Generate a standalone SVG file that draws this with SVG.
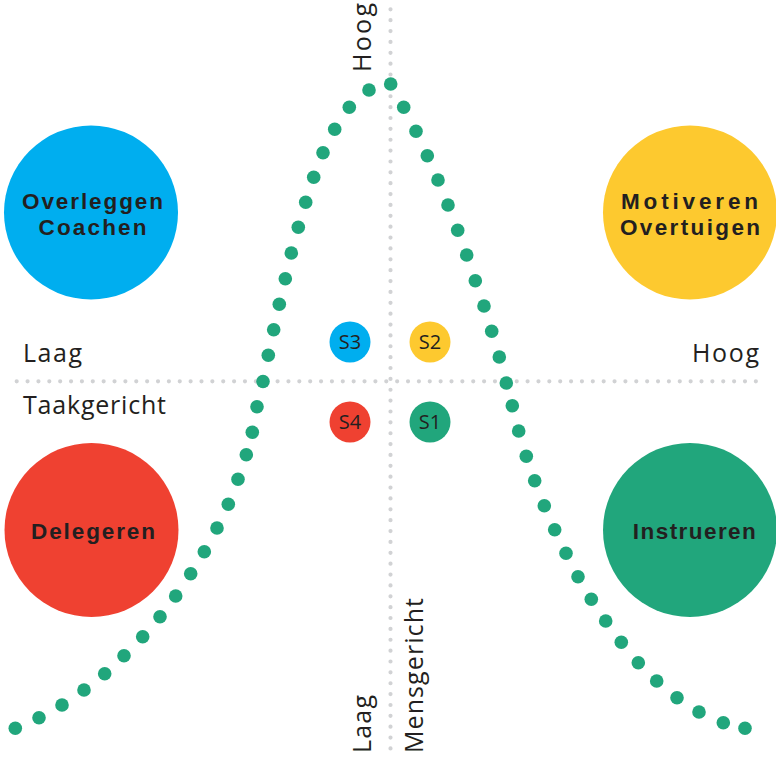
<svg xmlns="http://www.w3.org/2000/svg" width="776" height="758" viewBox="0 0 776 758">
<style>
.axis{stroke:#d1d2d4;stroke-width:4.2;stroke-linecap:round;stroke-dasharray:0 10.87;fill:none}
.g{fill:#21a67c}
.lbl{font-family:"Open Sans","Liberation Sans",Arial,sans-serif;font-size:25px;fill:#231f20}
.big{font-family:"Liberation Sans",Arial,sans-serif;font-size:22.5px;font-weight:700;fill:#231f20;text-anchor:middle}
.s{font-family:"Open Sans","Liberation Sans",Arial,sans-serif;font-size:20px;fill:#231f20;text-anchor:middle}
</style>
<rect width="776" height="758" fill="#ffffff"/>
<g id="connectors">
<line class="axis" x1="390.5" y1="9.3" x2="390.5" y2="753"/>
<line class="axis" x1="16.7" y1="381.3" x2="763" y2="381.3"/>
</g>
<g id="curve">
<circle class="g" cx="15.3" cy="728.3" r="6.8"/><circle class="g" cx="39" cy="717.7" r="6.8"/><circle class="g" cx="62" cy="705" r="6.8"/><circle class="g" cx="84" cy="690" r="6.8"/><circle class="g" cx="104.7" cy="673.7" r="6.8"/><circle class="g" cx="124" cy="655.7" r="6.8"/><circle class="g" cx="142.7" cy="636.7" r="6.8"/><circle class="g" cx="160" cy="616.7" r="6.8"/><circle class="g" cx="175.7" cy="596" r="6.8"/><circle class="g" cx="190.7" cy="573.7" r="6.8"/><circle class="g" cx="204.3" cy="551.7" r="6.8"/><circle class="g" cx="217" cy="528" r="6.8"/><circle class="g" cx="228.3" cy="504.3" r="6.8"/><circle class="g" cx="238" cy="479.3" r="6.8"/><circle class="g" cx="246.3" cy="454.7" r="6.8"/><circle class="g" cx="252.3" cy="432.3" r="6.8"/><circle class="g" cx="257" cy="406.7" r="6.8"/><circle class="g" cx="263" cy="381.5" r="6.8"/><circle class="g" cx="268.3" cy="355.3" r="6.8"/><circle class="g" cx="273.7" cy="329.7" r="6.8"/><circle class="g" cx="279.3" cy="304.3" r="6.8"/><circle class="g" cx="285.3" cy="278.7" r="6.8"/><circle class="g" cx="291.3" cy="253" r="6.8"/><circle class="g" cx="298.3" cy="227.3" r="6.8"/><circle class="g" cx="305.7" cy="202.3" r="6.8"/><circle class="g" cx="313.7" cy="177.3" r="6.8"/><circle class="g" cx="323" cy="152.7" r="6.8"/><circle class="g" cx="334.7" cy="129.3" r="6.8"/><circle class="g" cx="349.3" cy="107.3" r="6.8"/><circle class="g" cx="369" cy="90" r="6.8"/><circle class="g" cx="390.7" cy="84" r="6.8"/>
<circle class="g" cx="403.7" cy="107.3" r="6.8"/><circle class="g" cx="416" cy="131.3" r="6.8"/><circle class="g" cx="427.3" cy="155.7" r="6.8"/><circle class="g" cx="438" cy="180" r="6.8"/><circle class="g" cx="448" cy="205" r="6.8"/><circle class="g" cx="457.7" cy="230.3" r="6.8"/><circle class="g" cx="466.7" cy="255" r="6.8"/><circle class="g" cx="475.3" cy="280.7" r="6.8"/><circle class="g" cx="484" cy="306" r="6.8"/><circle class="g" cx="491.7" cy="331.3" r="6.8"/><circle class="g" cx="499.3" cy="357" r="6.8"/><circle class="g" cx="506.3" cy="383" r="6.8"/><circle class="g" cx="512.3" cy="405.7" r="6.8"/><circle class="g" cx="518.7" cy="431" r="6.8"/><circle class="g" cx="526.3" cy="456.3" r="6.8"/><circle class="g" cx="534.7" cy="480.7" r="6.8"/><circle class="g" cx="544.3" cy="505.7" r="6.8"/><circle class="g" cx="554.7" cy="529.7" r="6.8"/><circle class="g" cx="566" cy="553.3" r="6.8"/><circle class="g" cx="578" cy="576.7" r="6.8"/><circle class="g" cx="591.3" cy="599.3" r="6.8"/><circle class="g" cx="605.7" cy="621" r="6.8"/><circle class="g" cx="621.3" cy="642.3" r="6.8"/><circle class="g" cx="638.3" cy="662.7" r="6.8"/><circle class="g" cx="656.7" cy="681" r="6.8"/><circle class="g" cx="677" cy="697.7" r="6.8"/><circle class="g" cx="699" cy="712" r="6.8"/><circle class="g" cx="723.3" cy="722.7" r="6.8"/><circle class="g" cx="745" cy="728.3" r="6.8"/>
</g>
<g id="labels">
<text class="lbl" x="23" y="362" textLength="59">Laag</text>
<text class="lbl" x="23" y="414" textLength="143">Taakgericht</text>
<text class="lbl" x="692" y="362" textLength="67">Hoog</text>
<text class="lbl" transform="translate(371,72) rotate(-90)" textLength="69">Hoog</text>
<text class="lbl" transform="translate(371,753) rotate(-90)" textLength="58">Laag</text>
<text class="lbl" transform="translate(423,753) rotate(-90)" textLength="155">Mensgericht</text>
</g>
<g id="node-overleggen">
<circle cx="91" cy="212.5" r="87" fill="#00aeef"/>
<text class="big" x="92.5" y="208.5" textLength="141">Overleggen</text>
<text class="big" x="92.5" y="234.5" textLength="108">Coachen</text>
</g>
<g id="node-motiveren">
<circle cx="690" cy="212.5" r="87" fill="#fdc92f"/>
<text class="big" x="689.5" y="208.5" textLength="137">Motiveren</text>
<text class="big" x="690" y="234.5" textLength="140">Overtuigen</text>
</g>
<g id="node-delegeren">
<circle cx="91.5" cy="530" r="87" fill="#ef4131"/>
<text class="big" x="93" y="539" textLength="124">Delegeren</text>
</g>
<g id="node-instrueren">
<circle cx="690" cy="530" r="87" fill="#21a67c"/>
<text class="big" x="694.3" y="539" textLength="123">Instrueren</text>
</g>
<g id="node-s3"><circle cx="350" cy="342" r="20.5" fill="#00aeef"/><text class="s" x="350" y="349">S3</text></g>
<g id="node-s2"><circle cx="430" cy="342" r="20.5" fill="#fdc92f"/><text class="s" x="430" y="349">S2</text></g>
<g id="node-s4"><circle cx="350" cy="422" r="20.5" fill="#ef4131"/><text class="s" x="350" y="429">S4</text></g>
<g id="node-s1"><circle cx="430" cy="422" r="20.5" fill="#21a67c"/><text class="s" x="430" y="429">S1</text></g>
</svg>
